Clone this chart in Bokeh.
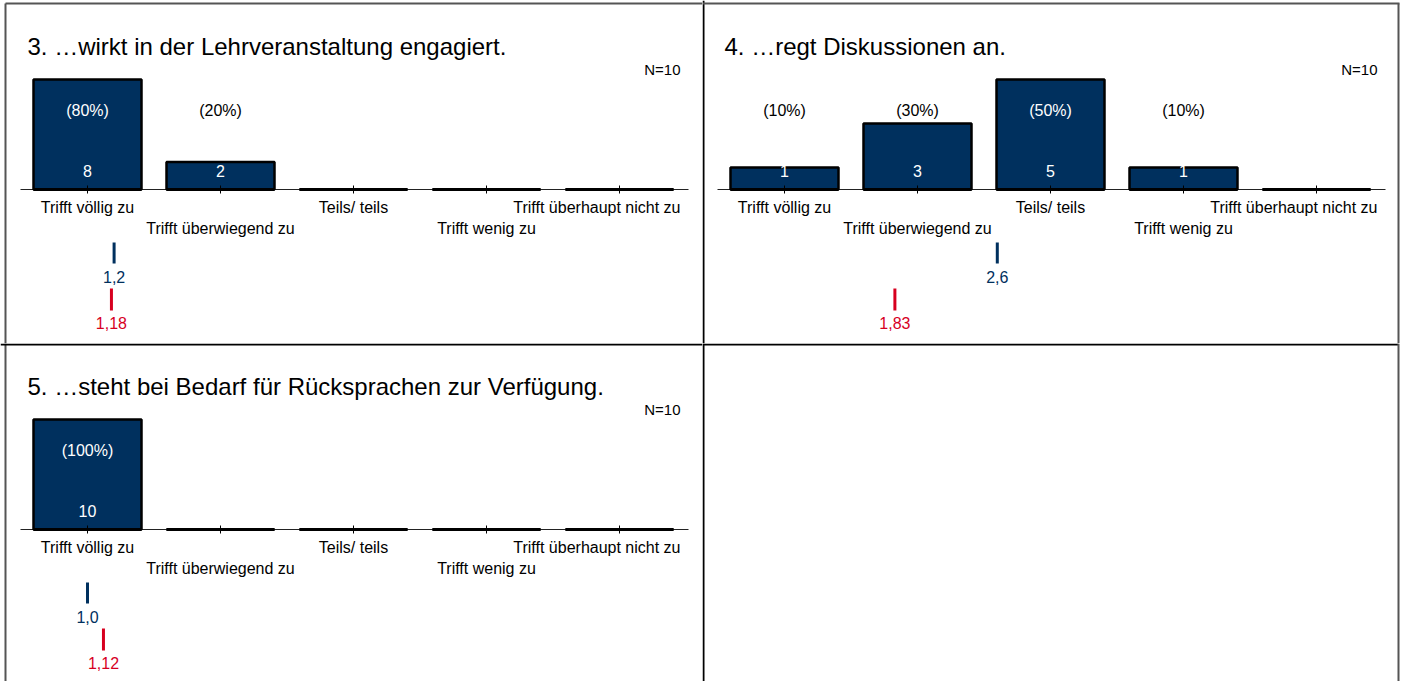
from bokeh.plotting import figure
from bokeh.layouts import column, row
from bokeh.models import Range1d
from bokeh.core.properties import value
from bokeh.embed import file_html
from bokeh.resources import INLINE

# ---------------- data ----------------
categories = ["Trifft völlig zu", "Trifft überwiegend zu", "Teils/ teils",
              "Trifft wenig zu", "Trifft überhaupt nicht zu"]
titles = ["3. …wirkt in der Lehrveranstaltung engagiert.",
          "4. …regt Diskussionen an.",
          "5. …steht bei Bedarf für Rücksprachen zur Verfügung."]
counts_q3 = [8, 2, 0, 0, 0]
counts_q4 = [1, 3, 5, 1, 0]
counts_q5 = [10, 0, 0, 0, 0]
n_values = [10, 10, 10]
mean_values = [1.2, 2.6, 1.0]
comparison_means = [1.18, 1.83, 1.12]

# ---------------- style ----------------
NAVY = "#00305e"
RED = "#d7001f"
OUTER = "#555555"
FONT = value("Liberation Sans")
STEP = 133      # px between category centres
BAR_PX = 110    # px height of tallest bar
BAR_W = 108 / 133


def base_figure(width, height, xr, yr):
    p = figure(width=width, height=height, x_range=xr, y_range=yr,
               output_backend="svg", toolbar_location=None, min_border=0,
               x_axis_location=None, y_axis_location=None,
               outline_line_color=None,
               background_fill_color="white", border_fill_color="white")
    p.grid.visible = False
    return p


def panel(title, counts, n, mean, comp, width, height, dx, dy, frame_lines):
    maxc = max(counts)
    ppu = BAR_PX / maxc
    base_px = 186 + dy            # baseline, px from figure top
    x0_px = 82 + dx               # first category centre, px from figure left
    xs = -x0_px / STEP
    xe = xs + width / STEP
    ys = -(height - base_px) / ppu
    ye = base_px / ppu
    p = base_figure(width, height, Range1d(xs, xe), Range1d(ys, ye))

    def X(px):  # reference-panel-relative px -> data x
        return xs + (px + dx) / STEP

    def Y(px_up):  # px above baseline -> data y
        return px_up / ppu

    def Yt(px_down):  # panel-relative px from top -> data y
        return (186 - px_down) / ppu

    idx = list(range(len(categories)))

    # frame lines (panel-relative px)
    p.segment(x0=[X(a) for a, _, _, _, _ in frame_lines],
              y0=[Yt(b) for _, b, _, _, _ in frame_lines],
              x1=[X(c) for _, _, c, _, _ in frame_lines],
              y1=[Yt(d) for _, _, _, d, _ in frame_lines],
              line_color=[e for *_, e in frame_lines], line_width=2)

    # axis line
    p.segment(x0=[X(15)], x1=[X(683)], y0=[0], y1=[0], line_color="#222222", line_width=1)
    # bars
    p.vbar(x=idx, top=counts, bottom=0, width=BAR_W, fill_color=NAVY,
           line_color="black", line_width=2.5)
    p.segment(x0=[i - BAR_W / 2 for i in idx], x1=[i + BAR_W / 2 for i in idx],
              y0=[0] * len(idx), y1=[0] * len(idx), line_color="black", line_width=3)
    # ticks
    p.segment(x0=idx, x1=idx, y0=[Y(-4)] * len(idx), y1=[Y(4)] * len(idx),
              line_color="black", line_width=1)

    # value labels
    nz = [i for i in idx if counts[i] > 0]
    pct_txt = ["(%d%%)" % round(100 * counts[i] / n) for i in nz]
    pct_col = ["white" if counts[i] * ppu > 79 + 8 else "black" for i in nz]
    p.text(x=nz, y=[Y(79)] * len(nz), text=pct_txt, text_color=pct_col,
           text_font=FONT, text_font_size=value("16px"),
           text_align="center", text_baseline="middle")
    p.text(x=nz, y=[Y(19)] * len(nz), text=[str(counts[i]) for i in nz],
           text_color="white", text_font=FONT, text_font_size=value("16px"),
           text_align="center", text_baseline="middle")

    # category labels (alternating rows)
    last = len(idx) - 1
    lx = [i for i in idx[:-1]]
    ly = [Y(-18) if i % 2 == 0 else Y(-39) for i in idx[:-1]]
    p.text(x=lx, y=ly, text=categories[:-1], text_color="black",
           text_font=FONT, text_font_size=value("16px"),
           text_align="center", text_baseline="middle")
    p.text(x=[X(675)], y=[Y(-18) if last % 2 == 0 else Y(-39)], text=[categories[-1]],
           text_color="black", text_font=FONT, text_font_size=value("16px"),
           text_align="right", text_baseline="middle")

    # mean markers
    p.segment(x0=[mean - 1], x1=[mean - 1], y0=[Y(-53)], y1=[Y(-74)],
              line_color=NAVY, line_width=3)
    p.text(x=[mean - 1], y=[Y(-87)], text=[("%.1f" % mean).replace(".", ",")],
           text_color=NAVY, text_font=FONT, text_font_size=value("16px"),
           text_align="center", text_baseline="middle")
    p.segment(x0=[comp - 1], x1=[comp - 1], y0=[Y(-99)], y1=[Y(-121)],
              line_color=RED, line_width=3)
    p.text(x=[comp - 1], y=[Y(-133)], text=[("%.2f" % comp).replace(".", ",")],
           text_color=RED, text_font=FONT, text_font_size=value("16px"),
           text_align="center", text_baseline="middle")

    # title and N
    p.text(x=[X(22)], y=[Y(143)], text=[title], text_color="black",
           text_font=FONT, text_font_size=value("24px"),
           text_align="left", text_baseline="alphabetic")
    p.text(x=[X(675)], y=[Y(120)], text=["N=%d" % n], text_color="black",
           text_font=FONT, text_font_size=value("15px"),
           text_align="right", text_baseline="middle")
    return p


# frame lines: (x0, y0, x1, y1, colour) in reference-panel-relative px
p1 = panel(titles[0], counts_q3, n_values[0], mean_values[0], comparison_means[0],
           702, 343, 5, 3,
           [(0, 0, 0, 345, OUTER), (0, 0, 700, 0, OUTER)])
p2 = panel(titles[1], counts_q4, n_values[1], mean_values[1], comparison_means[1],
           699, 343, 0, 3,
           [(1, -3, 1, 345, "black"), (0, 0, 697, 0, OUTER), (696, 0, 696, 345, OUTER)])
p3 = panel(titles[2], counts_q5, n_values[2], mean_values[2], comparison_means[2],
           702, 338, 5, 0,
           [(0, 0, 0, 345, OUTER), (-5, 1, 700, 1, "black")])

# empty fourth cell (pixel ranges, y measured downward from the top)
p4 = base_figure(699, 338, Range1d(0, 699), Range1d(338, 0))
p4.segment(x0=[1, 0, 696], x1=[1, 696, 696], y0=[0, 1, 0], y1=[338, 1, 338],
           line_color=["black", "black", OUTER], line_width=2)

layout = column(row(p1, p2), row(p3, p4))
open("out.html", "w").write(file_html(layout, INLINE))
